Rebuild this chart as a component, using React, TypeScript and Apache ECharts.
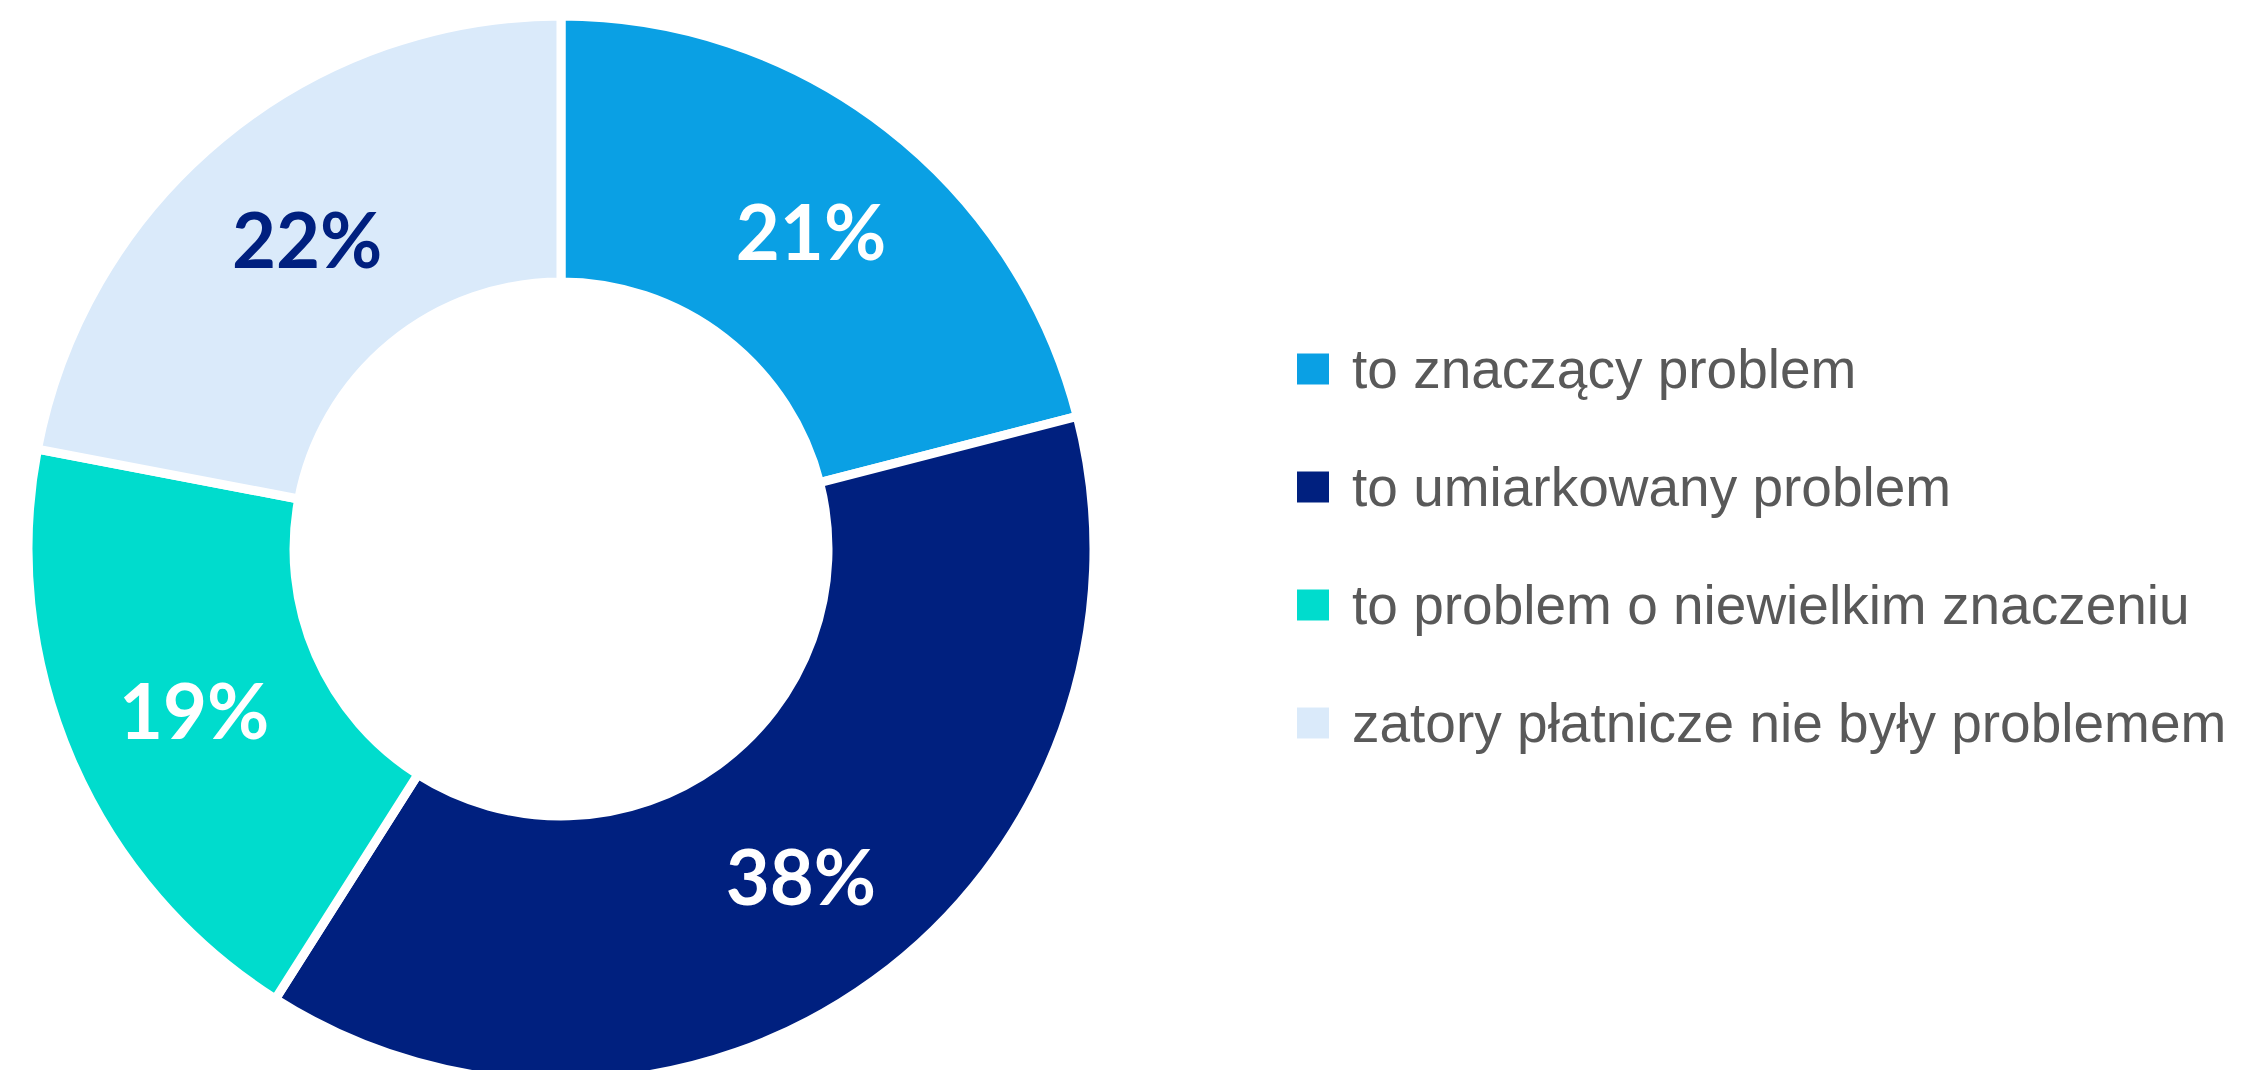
import React, { useEffect, useRef } from "react";
import * as echarts from "echarts";

const categories = [
  "to znaczący problem",
  "to umiarkowany problem",
  "to problem o niewielkim znaczeniu",
  "zatory płatnicze nie były problemem",
];
const values = [21, 38, 19, 22];
const colors = ["#0AA0E4", "#00207F", "#00DCCD", "#DAEAFA"];
const labelColors = ["#FFFFFF", "#FFFFFF", "#FFFFFF", "#00207F"];

export default function App() {
  const ref = useRef<HTMLDivElement>(null);
  useEffect(() => {
    document.body.style.margin = "0";
    const chart = echarts.init(ref.current!, null, { renderer: "svg" });
    chart.setOption({
      animation: false,
      backgroundColor: "#FFFFFF",
      legend: {
        orient: "vertical",
        left: 1290,
        top: 334,
        itemWidth: 34,
        itemHeight: 33,
        itemGap: 58,
        icon: "rect",
        selectedMode: false,
        textStyle: {
          fontFamily: "Liberation Sans, Arial, sans-serif",
          fontSize: 55,
          lineHeight: 60,
          color: "#595959",
          padding: [0, 0, 0, 17],
        },
        data: categories,
      },
      series: [
        {
          type: "pie",
          center: [561, 549],
          radius: [267, 533],
          startAngle: 90,
          clockwise: true,
          avoidLabelOverlap: false,
          itemStyle: { borderColor: "#FFFFFF", borderWidth: 9 },
          label: {
            show: true,
            position: "inside",
            formatter: "{c}%",
            fontFamily: "Lato, Open Sans, sans-serif",
            fontWeight: "bold",
            fontSize: 76,
            padding: [14, 0, 0, 6],
          },
          labelLine: { show: false },
          emphasis: { disabled: true },
          data: categories.map((name, i) => ({
            name,
            value: values[i],
            itemStyle: { color: colors[i] },
            label: { color: labelColors[i] },
          })),
        },
      ],
    });
    return () => chart.dispose();
  }, []);
  return <div ref={ref} style={{ width: 2249, height: 1070 }} />;
}
